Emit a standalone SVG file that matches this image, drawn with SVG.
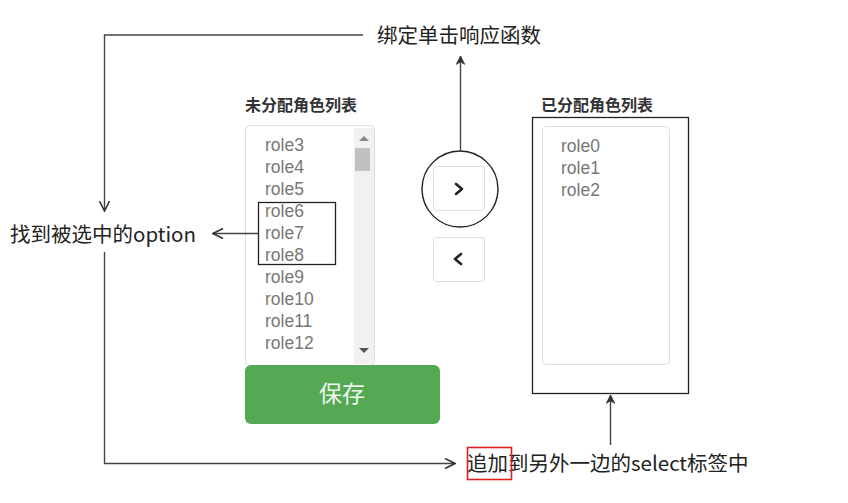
<svg xmlns="http://www.w3.org/2000/svg" width="848" height="503" viewBox="0 0 848 503">
<defs>
<marker id="arr" viewBox="0 0 12 12" refX="11" refY="6" markerWidth="12" markerHeight="12" markerUnits="userSpaceOnUse" orient="auto">
<path d="M1,1 L11,6 L1,11" fill="none" stroke="#333" stroke-width="1.6"/>
</marker>
<marker id="arrs" viewBox="0 0 12 12" refX="11" refY="6" markerWidth="10" markerHeight="10" markerUnits="userSpaceOnUse" orient="auto">
<path d="M1,1 L11,6 L1,11 L4,6 Z" fill="#333" stroke="#333" stroke-width="1"/>
</marker>
</defs>
<style>
.lbl{font-family:"Noto Sans CJK SC","Liberation Sans",sans-serif;fill:#222;font-size:20.5px}
.title{font-family:"Noto Sans CJK SC","Liberation Sans",sans-serif;font-weight:bold;font-size:16px;fill:#333}
.opt{font-family:"Liberation Sans",Arial,sans-serif;font-size:17.5px;fill:#777}
.btn{fill:#fff;stroke:#ddd;stroke-width:1}
.chev{fill:none;stroke:#222;stroke-width:2.6;stroke-linecap:round;stroke-linejoin:round}
.conn{fill:none;stroke:#444;stroke-width:1.4}
</style>
<rect width="848" height="503" fill="#fff"/>

<g id="left-select">
<text class="title" x="245" y="111">未分配角色列表</text>
<rect x="245.500" y="125.500" width="129" height="240" rx="4" fill="#fff" stroke="#ddd"/>
<rect x="354" y="128" width="20" height="236" fill="#f1f1f1"/>
<rect x="355" y="148" width="15" height="23" fill="#c1c1c1"/>
<path d="M359,141 L364,136 L369,141 Z" fill="#888"/>
<path d="M359,348 L364,353 L369,348 Z" fill="#555"/>
<text class="opt" x="265" y="151">role3</text>
<text class="opt" x="265" y="173">role4</text>
<text class="opt" x="265" y="195">role5</text>
<text class="opt" x="265" y="217">role6</text>
<text class="opt" x="265" y="239">role7</text>
<text class="opt" x="265" y="261">role8</text>
<text class="opt" x="265" y="283">role9</text>
<text class="opt" x="265" y="305">role10</text>
<text class="opt" x="265" y="327">role11</text>
<text class="opt" x="265" y="349">role12</text>
<rect x="258.500" y="202.500" width="77" height="62" fill="none" stroke="#222" stroke-width="1.3"/>
</g>

<g id="save-btn">
<rect x="245" y="365" width="195" height="59" rx="6" fill="#55a955"/>
<text x="342" y="402" text-anchor="middle" font-family="'Noto Sans CJK SC',sans-serif" font-size="23" fill="#eef8ee">保存</text>
</g>

<g id="btn-right">
<rect class="btn" x="433.500" y="166.500" width="51" height="44" rx="3"/>
<path class="chev" d="M456,184 L462,189 L456,194"/>
<circle cx="460" cy="189" r="38" fill="none" stroke="#222" stroke-width="1.4"/>
</g>

<g id="btn-left">
<rect class="btn" x="433.500" y="237.500" width="51" height="44" rx="3"/>
<path class="chev" d="M461,254 L455,259 L461,264"/>
</g>

<g id="right-select">
<text class="title" x="541" y="111">已分配角色列表</text>
<rect x="532.500" y="117.500" width="156" height="276" fill="none" stroke="#222" stroke-width="1.3"/>
<rect x="542.500" y="126.500" width="127" height="238" rx="4" fill="#fff" stroke="#ddd"/>
<text class="opt" x="561" y="152">role0</text>
<text class="opt" x="561" y="174">role1</text>
<text class="opt" x="561" y="196">role2</text>
</g>

<g id="label-bind">
<text class="lbl" x="377" y="43">绑定单击响应函数</text>
</g>
<g id="label-find">
<text class="lbl" x="10" y="242">找到被选中的option</text>
</g>
<g id="label-append">
<text class="lbl" x="467" y="471">追加到另外一边的select标签中</text>
<rect x="467.500" y="447.500" width="44" height="32" fill="none" stroke="#e02020" stroke-width="1.6"/>
</g>

<g id="connectors">
<path class="conn" d="M363,35 H104.500 V211" marker-end="url(#arr)"/>
<path class="conn" d="M104.500,252 V463.500 H455" marker-end="url(#arr)"/>
<path class="conn" d="M460.500,151 V56" marker-end="url(#arrs)"/>
<path class="conn" d="M258,233.500 H213" marker-end="url(#arr)"/>
<path class="conn" d="M610.500,445 V395" marker-end="url(#arrs)"/>
</g>
</svg>
